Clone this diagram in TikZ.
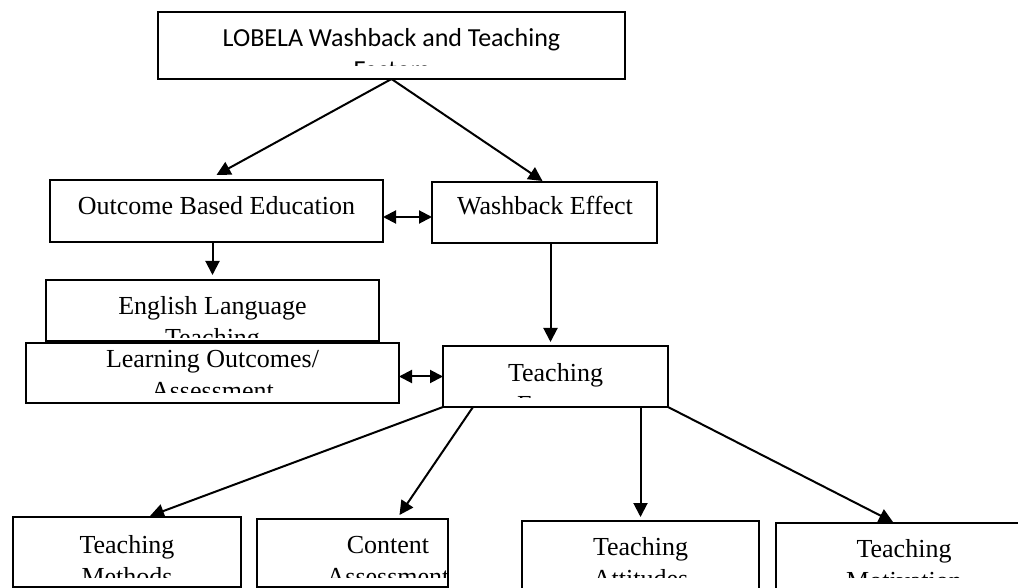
\documentclass[tikz,border=0pt]{standalone}
\usepackage{fontspec}
\setmainfont{Liberation Serif}
\newfontfamily\calibri{Carlito}
\usetikzlibrary{arrows.meta,calc,fit}

\tikzset{
  wbox/.style={draw,fill=white,line width=1pt,inner sep=0pt,outer sep=0pt},
  wtext/.style={inner sep=0pt,align=center,anchor=base,font=\fontsize{13}{16}\selectfont},
  wline/.style={line width=1pt,-{Triangle[length=7pt,width=7pt]}},
  wboth/.style={line width=1pt,{Triangle[length=6.5pt,width=6.5pt]}-{Triangle[length=6.5pt,width=6.5pt]}}
}

\begin{document}
\begin{tikzpicture}[x=0.5pt,y=-0.5pt]
  \useasboundingbox (0,0) rectangle (1018,588);

  \node[wbox,fit={(158,12) (625,79)}] (top) {};
  \begin{scope}
    \clip ($(top.south west)+(2,-13)$) rectangle ($(top.north east)+(-2,0)$);
    \node[wtext,font=\calibri\fontsize{13}{16}\selectfont] (topt) at (391.5,79) {LOBELA Washback and Teaching\\Factors};
  \end{scope}

  \node[wbox,fit={(50,180) (383,242)}] (obe) {};
  \node[wtext] (obet) at (216.5,215) {Outcome Based Education};
  \node[wbox,fit={(432,182) (657,243)}] (we) {};
  \node[wtext] (wet) at (545,215) {Washback Effect};

  \node[wbox,fit={(46,280) (379,341)}] (elt) {};
  \begin{scope}
    \clip ($(elt.south west)+(2,-3)$) rectangle ($(elt.north east)+(-2,0)$);
    \node[wtext] (eltt) at (212.5,347) {English Language\\Teaching};
  \end{scope}

  \node[wbox,fit={(26,343) (399,403)}] (lo) {};
  \begin{scope}
    \clip ($(lo.south west)+(2,-10)$) rectangle ($(lo.north east)+(-2,0)$);
    \node[wtext] (lot) at (212.5,400) {Learning Outcomes/\\Assessment};
  \end{scope}

  \node[wbox,fit={(443,346) (668,407)}] (tf) {};
  \begin{scope}
    \clip ($(tf.south west)+(2,-9)$) rectangle ($(tf.north east)+(-2,0)$);
    \node[wtext] (tft) at (555.5,414) {Teaching\\Factors};
  \end{scope}

  \node[wbox,fit={(13,517) (241,587)}] (tm) {};
  \begin{scope}
    \clip ($(tm.south west)+(2,-10)$) rectangle ($(tm.north east)+(-2,0)$);
    \node[wtext] (tmt) at (127,585) {Teaching\\Methods};
  \end{scope}

  \node[wbox,fit={(257,519) (448,587)}] (ca) {};
  \begin{scope}
    \clip ($(ca.south west)+(2,-10)$) rectangle ($(ca.north east)+(-2,0)$);
    \node[wtext] (cat) at (388,585) {Content\\Assessment};
  \end{scope}

  \node[wbox,fit={(522,521) (759,594)}] (ta) {};
  \begin{scope}
    \clip ($(ta.north west)+(2,56)$) rectangle ($(ta.north east)+(-2,0)$);
    \node[wtext] (tat) at (640.5,587) {Teaching\\Attitudes};
  \end{scope}

  \node[wbox,fit={(776,523) (1030,594)}] (tmo) {};
  \begin{scope}
    \clip ($(tmo.north west)+(2,54)$) rectangle ($(tmo.north east)+(-2,0)$);
    \node[wtext] (tmot) at (904,589) {Teaching\\Motivation};
  \end{scope}

  \draw[wline] (top.south) -- ($(obe.north)+(0,-5)$);
  \draw[wline] (top.south) -- ($(we.north)+(-2,-1)$);
  \draw[wboth] ($(obe.east)+(0,6)$) -- ($(obe.east -| we.west)+(0,6)$);
  \draw[wline] ($(obe.south)+(-4,0)$) -- ($(obe.south |- elt.north)+(-4,-5)$);
  \draw[wline] ($(we.south)+(6,0)$) -- ($(we.south |- tf.north)+(6,-4)$);
  \draw[wboth] (tf.west -| lo.east) -- (tf.west);
  \draw[wline] (tf.south west) -- ($(tm.north)+(23,-1)$);
  \draw[wline] ($(tf.south west)+(30,0)$) -- ($(ca.north)+(47,-4)$);
  \draw[wline] (ta.north |- tf.south) -- ($(ta.north)+(0,-4)$);
  \draw[wline] (tf.south east) -- ($(tmo.north west)+(117,-1)$);
\end{tikzpicture}
\end{document}
